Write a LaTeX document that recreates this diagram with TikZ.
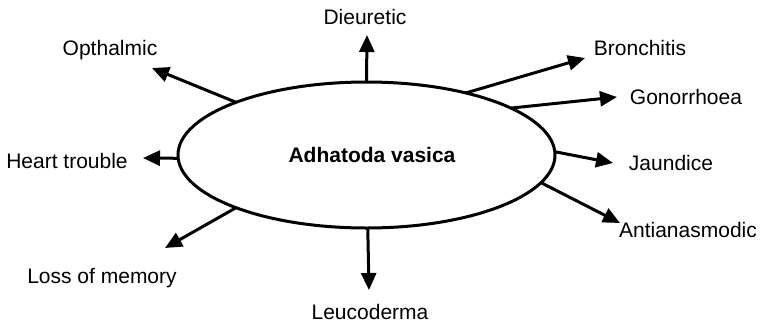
\documentclass[tikz,border=0pt]{standalone}
\usepackage{fontspec}
\setmainfont{Liberation Sans}
\usetikzlibrary{arrows.meta,shapes.geometric}
\begin{document}
\begin{tikzpicture}[x=1pt,y=-1pt,
  lbl/.style={font=\fontsize{21}{24}\selectfont, inner sep=0pt},
  arr/.style={line width=3pt,-{Triangle[length=17pt,width=15pt]}},
  hub/.style={ellipse, draw, line width=3pt, minimum width=377pt, minimum height=146pt, inner sep=0pt, outer sep=0pt}]
\useasboundingbox (0,0) rectangle (766,325);
\node[hub] (c) at (366.5,155) {};
\node[font=\fontsize{21}{24}\selectfont\bfseries, inner sep=0pt] (ct) at (372,155) {Adhatoda vasica};

\node[lbl] (die) at (365,17) {Dieuretic};
\node[lbl] (opt) at (110,50) {Opthalmic};
\node[lbl] (bro) at (640,48) {Bronchitis};
\node[lbl] (gon) at (686,97) {Gonorrhoea};
\node[lbl] (hea) at (67,161) {Heart trouble};
\node[lbl] (jau) at (671,163) {Jaundice};
\node[lbl] (ant) at (688,230) {Antianasmodic};
\node[lbl] (los) at (102,278) {Loss of memory};
\node[lbl] (leu) at (370,312) {Leucoderma};

\coordinate (tdie) at (367,35);
\coordinate (topt) at (152,68);
\coordinate (tbro) at (585,58);
\coordinate (tgon) at (617,97);
\coordinate (thea) at (143,158);
\coordinate (tjau) at (613,163);
\coordinate (tant) at (620,223);
\coordinate (tlos) at (165,248);
\coordinate (tleu) at (369,290);

\draw[arr] (c.90) -- (tdie);
\draw[arr] (c.158) -- (topt);
\draw[arr] (c.32.6) -- (tbro);
\draw[arr] (c.18.5) -- (tgon);
\draw[arr] (c.181) -- (thea);
\draw[arr] (c.1) -- (tjau);
\draw[arr] (c.-9.7) -- (tant);
\draw[arr] (c.-158.5) -- (tlos);
\draw[arr] (c.-89) -- (tleu);
\end{tikzpicture}
\end{document}
